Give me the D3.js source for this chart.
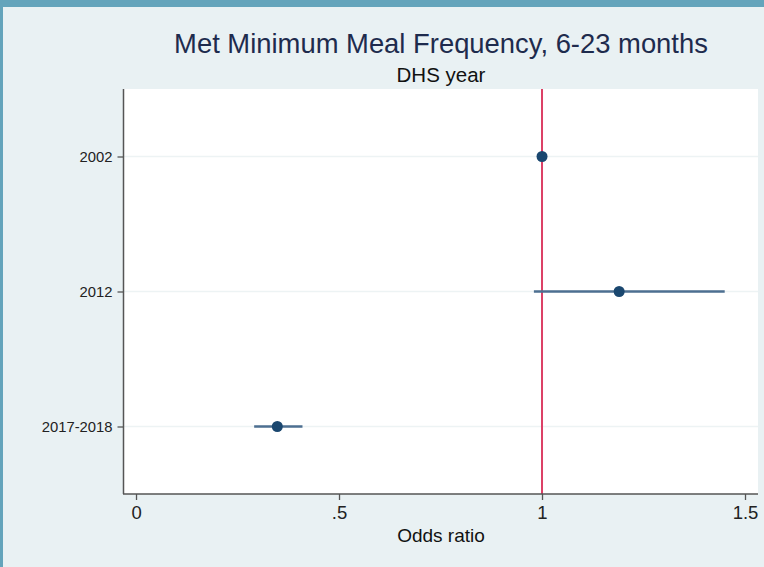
<!DOCTYPE html>
<html>
<head>
  <meta charset="utf-8"/>
  <title>Met Minimum Meal Frequency</title>
  <script src="https://d3js.org/d3.v7.min.js"></script>
  <style>
    body { margin: 0; background: #e9f1f3; }
    svg { display: block; font-family: "Liberation Sans", Arial, sans-serif; }
  </style>
</head>
<body>
<svg></svg>
<script>

// data
const years = ["2002", "2012", "2017-2018"];
const oddsRatio = [1, 1.19, 0.348];
const ciLow = [null, 0.98, 0.291];
const ciHigh = [null, 1.45, 0.41];
const xTicks = [0, 0.5, 1, 1.5];
const xTickLabels = ["0", ".5", "1", "1.5"];

const width = 764, height = 567;
const plot = { left: 124, right: 758, top: 89, bottom: 494 };

const svg = d3.select("svg")
    .attr("width", width)
    .attr("height", height);

// frame
svg.append("rect").attr("width", width).attr("height", height).attr("fill", "#e9f1f3");
svg.append("rect").attr("width", width).attr("height", 7).attr("fill", "#64a4bb");
svg.append("rect").attr("width", 3).attr("height", height).attr("fill", "#64a4bb");

svg.append("rect")
    .attr("x", plot.left).attr("y", plot.top)
    .attr("width", plot.right - plot.left)
    .attr("height", plot.bottom - plot.top)
    .attr("fill", "#fff");

const x = d3.scaleLinear()
    .domain([-0.0296, 1.532])
    .range([plot.left, plot.right]);

const y = d3.scalePoint()
    .domain(years)
    .range([plot.top, plot.bottom])
    .padding(0.5);

// gridlines
svg.selectAll(".grid")
    .data(years)
    .join("line")
      .attr("class", "grid")
      .attr("x1", plot.left).attr("x2", plot.right)
      .attr("y1", d => y(d)).attr("y2", d => y(d))
      .attr("stroke", "#edf3f4")
      .attr("stroke-width", 1.5);

// reference line at 1
svg.append("line")
    .attr("x1", x(1)).attr("x2", x(1))
    .attr("y1", plot.top).attr("y2", plot.bottom)
    .attr("stroke", "#dc4066")
    .attr("stroke-width", 2);

// axes
const xAxis = svg.append("g")
    .attr("transform", `translate(0,${plot.bottom})`)
    .call(d3.axisBottom(x)
      .tickValues(xTicks)
      .tickFormat((d, i) => xTickLabels[i])
      .tickSize(6)
      .tickPadding(6));
xAxis.select(".domain").remove();
xAxis.selectAll("line").attr("stroke", "#555").attr("stroke-width", 1.3);
xAxis.selectAll("text")
    .attr("font-size", 18.5)
    .attr("fill", "#222");

const yAxis = svg.append("g")
    .attr("transform", `translate(${plot.left - 0.5},0)`)
    .call(d3.axisLeft(y).tickSize(6).tickPadding(5));
yAxis.select(".domain").remove();
yAxis.selectAll("line").attr("stroke", "#555").attr("stroke-width", 1.3);
yAxis.selectAll("text")
    .attr("font-size", 14.8)
    .attr("fill", "#222");

svg.append("line")
    .attr("x1", plot.left - 0.5).attr("x2", plot.left - 0.5)
    .attr("y1", plot.top).attr("y2", plot.bottom)
    .attr("stroke", "#555").attr("stroke-width", 1.5);
svg.append("line")
    .attr("x1", plot.left - 1).attr("x2", plot.right)
    .attr("y1", plot.bottom).attr("y2", plot.bottom)
    .attr("stroke", "#555").attr("stroke-width", 1.5);

// confidence intervals
const rows = years.map((yr, i) => ({ yr, or: oddsRatio[i], lo: ciLow[i], hi: ciHigh[i] }));

svg.selectAll(".ci")
    .data(rows.filter(d => d.lo !== null))
    .join("line")
      .attr("class", "ci")
      .attr("x1", d => x(d.lo)).attr("x2", d => x(d.hi))
      .attr("y1", d => y(d.yr)).attr("y2", d => y(d.yr))
      .attr("stroke", "#4d6f91")
      .attr("stroke-width", 2.5);

svg.selectAll(".point")
    .data(rows)
    .join("circle")
      .attr("class", "point")
      .attr("cx", d => x(d.or))
      .attr("cy", d => y(d.yr))
      .attr("r", 5.5)
      .attr("fill", "#1a476f");

// titles
const cx = (plot.left + plot.right) / 2;
svg.append("text")
    .attr("x", cx).attr("y", 53)
    .attr("text-anchor", "middle")
    .attr("font-size", 27.4)
    .attr("fill", "#1e2b4d")
    .text("Met Minimum Meal Frequency, 6-23 months");
svg.append("text")
    .attr("x", cx).attr("y", 82)
    .attr("text-anchor", "middle")
    .attr("font-size", 20.5)
    .attr("fill", "#111")
    .text("DHS year");
svg.append("text")
    .attr("x", cx).attr("y", 542)
    .attr("text-anchor", "middle")
    .attr("font-size", 19)
    .attr("fill", "#111")
    .text("Odds ratio");

</script>
</body>
</html>
